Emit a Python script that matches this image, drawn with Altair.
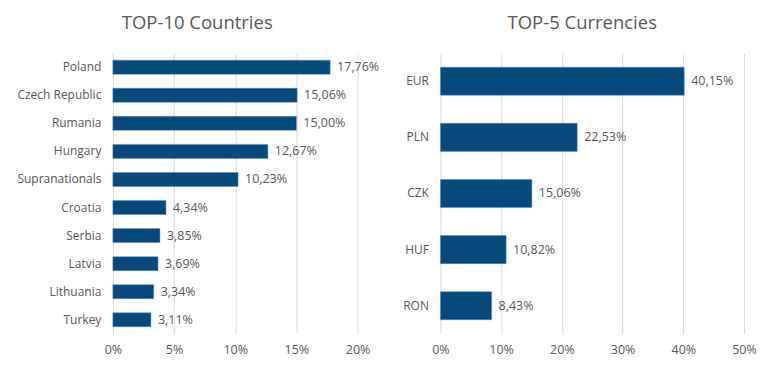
import altair as alt
import pandas as pd

countries = ["Poland", "Czech Republic", "Rumania", "Hungary", "Supranationals",
             "Croatia", "Serbia", "Latvia", "Lithuania", "Turkey"]
country_values = [17.76, 15.06, 15.00, 12.67, 10.23, 4.34, 3.85, 3.69, 3.34, 3.11]

currencies = ["EUR", "PLN", "CZK", "HUF", "RON"]
currency_values = [40.15, 22.53, 15.06, 10.82, 8.43]

BAR = "#064a7d"
TXT = "#595959"
FONT = "Open Sans"

df1 = pd.DataFrame({"cat": countries, "v": country_values})
df2 = pd.DataFrame({"cat": currencies, "v": currency_values})


def panel(df, title, xmax, step, w, h, title_dx):
    base = alt.Chart(df).transform_calculate(
        lbl="replace(format(datum.v, '.2f'), '.', ',') + '%'"
    )
    y = alt.Y("cat:N", sort=list(df["cat"]), title=None,
              scale=alt.Scale(paddingInner=0.5, paddingOuter=0.25),
              axis=alt.Axis(domain=False, ticks=False, grid=False, labelPadding=12,
                            labelFontSize=12, labelColor=TXT, labelFont=FONT,
                            minExtent=96, maxExtent=96))
    x = alt.X("v:Q", title=None,
              scale=alt.Scale(domain=[0, xmax], nice=False),
              axis=alt.Axis(values=list(range(0, xmax + 1, step)), labelExpr="datum.value + '%'",
                            domain=False, ticks=False, grid=True, gridColor="#d9d9d9",
                            labelFlush=False,
                            labelPadding=10, labelFontSize=12.5, labelColor=TXT, labelFont=FONT))
    bars = base.mark_bar(color=BAR, stroke="#5b8db8", strokeWidth=0.5).encode(x=x, y=y)
    text = base.mark_text(align="left", baseline="middle", dx=7, fontSize=12.5,
                          color=TXT, font=FONT).encode(x="v:Q", y=alt.Y("cat:N", sort=list(df["cat"])), text="lbl:N")
    return alt.layer(bars, text).properties(
        width=w, height=h,
        title=alt.TitleParams(title, fontSize=18.5, font=FONT, color=TXT, fontWeight="normal",
                              dx=title_dx, offset=21),
    )


left = panel(df1, "TOP-10 Countries", 20, 5, 245, 281, -38)
right = panel(df2, "TOP-5 Currencies", 50, 10, 304, 281, -10)

chart = alt.hconcat(left, right, spacing=83, bounds="flush").properties(
    padding={"left": 8, "top": 5, "right": 5, "bottom": 5}
).configure_view(stroke=None)

chart.save("out.html", embed_options={"renderer": "svg", "actions": False})
